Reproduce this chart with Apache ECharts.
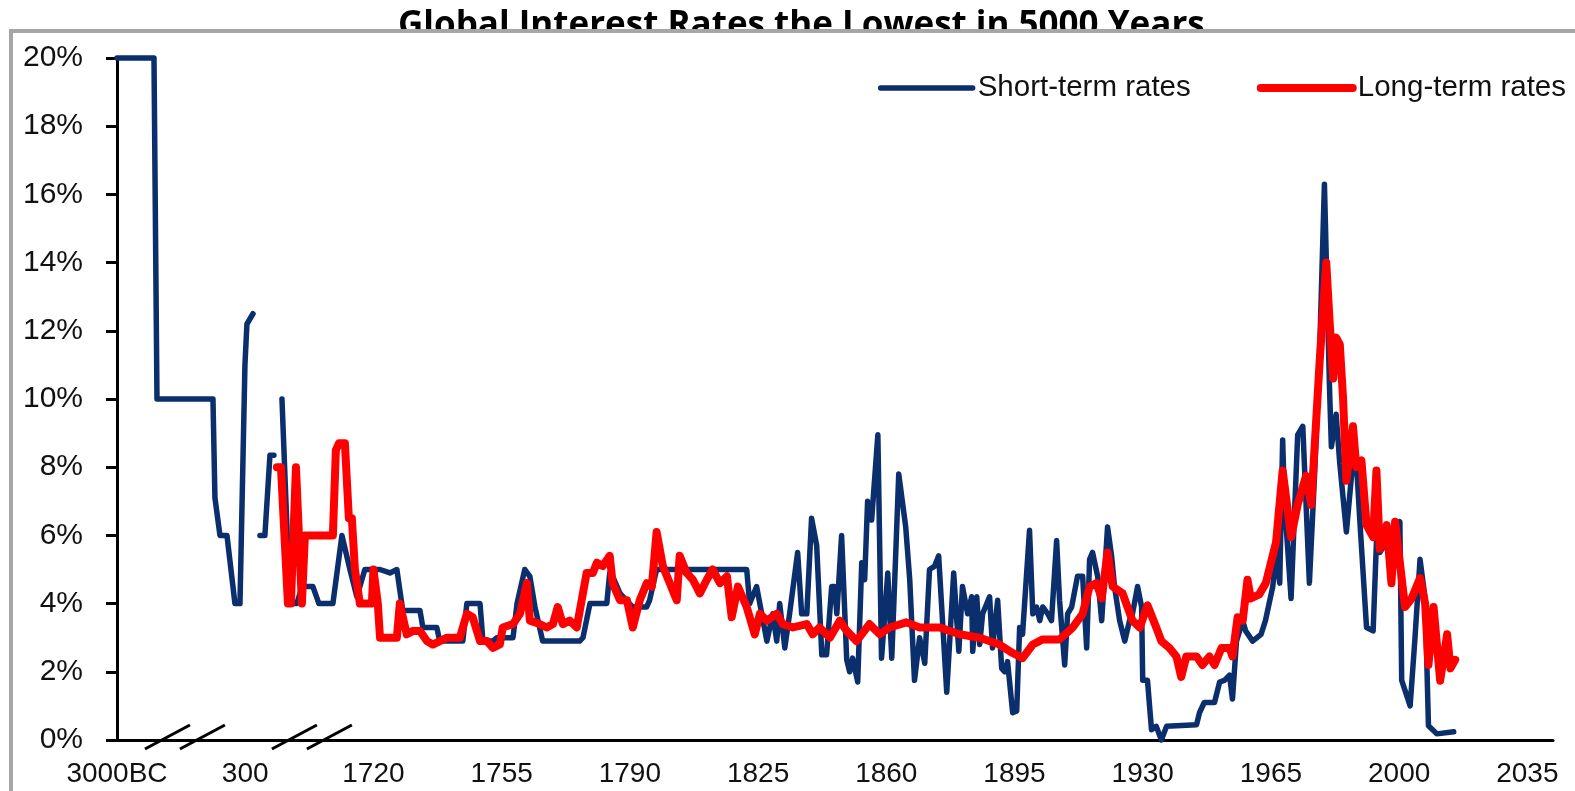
<!DOCTYPE html>
<html>
<head>
<meta charset="utf-8">
<title>Global Interest Rates</title>
<script src="https://cdn.jsdelivr.net/npm/echarts@6/dist/echarts.min.js"></script>
<style>
  html, body { margin: 0; padding: 0; background: #fff; }
  #chart { width: 1575px; height: 791px; }
</style>
</head>
<body>
<div id="chart"></div>
<script>
// tick labels along the bottom, one per slot
var xLabels = ['3000BC', '300', '1720', '1755', '1790', '1825', '1860', '1895', '1930', '1965', '2000', '2035'];

// [year, rate %]; null marks a gap in the line. negative = BC
var shortEarly = [
    [-3000, 20], [-2048, 20], [-1971, 10], [-530, 10], [-479, 7.1], [-350, 6], [-170, 6], [36, 4], [165, 4], [293, 11], [319, 12.2], [386, 12.5],
    null,
    [463, 6], [518, 6], [574, 8.35], [618, 8.35],
    null,
    [707, 10], [751, 7], [795, 4], [873, 4], [928, 4.5], [1050, 4.5], [1116, 4], [1271, 4], [1371, 6], [1460, 5], [1537, 4.2], [1625, 5], [1703, 5]
];
var shortModern = [
    [1720, 5.0], [1721.8, 5.0], [1724.5, 4.9], [1726.4, 5.0], [1728, 3.8], [1732.7, 3.8], [1733.5, 3.3], [1737.3, 3.3], [1738.1, 2.9],
    [1744.4, 2.9], [1745.5, 4.0], [1749.1, 4.0], [1749.9, 2.9], [1752.6, 2.9], [1753.7, 3.0], [1758.1, 3.0], [1759.2, 4.0], [1761.3, 5.0],
    [1762.7, 4.8], [1764.1, 3.9], [1766.2, 2.9], [1776.3, 2.9], [1777.2, 3.0], [1779.1, 4.0], [1783.7, 4.0], [1784.5, 4.9], [1785.3, 4.8],
    [1787.3, 4.3], [1790.8, 3.9], [1794.6, 3.9], [1795.4, 4.1], [1797.3, 5.0], [1821.9, 5.0], [1822.7, 4.0], [1824.6, 4.5], [1827.4, 2.9],
    [1829, 3.7], [1830.1, 2.9], [1830.9, 4.0], [1832.3, 2.7], [1833.6, 3.7], [1835.8, 5.5], [1836.9, 3.7], [1838.3, 3.7], [1839.6, 6.5],
    [1841, 5.7], [1842.4, 2.5], [1843.7, 2.5], [1845.1, 4.5], [1845.9, 4.5], [1846.5, 3.7], [1847.8, 6.0], [1849.2, 2.35], [1850, 2.0],
    [1850.8, 2.4], [1852.2, 1.7], [1853.3, 5.2], [1854.1, 4.7], [1854.9, 7.0], [1856, 6.45], [1857.7, 8.95], [1858.7, 2.4], [1859.6, 3.7],
    [1860.4, 4.9], [1861.5, 2.4], [1863.4, 7.8], [1865.3, 6.25], [1866.4, 4.7], [1867.7, 1.75], [1869.1, 3.0], [1870.5, 2.25], [1871.8, 5.0],
    [1873.2, 5.1], [1874.3, 5.4], [1876.5, 1.4], [1878.4, 4.9], [1879.8, 2.6], [1880.8, 4.5], [1882.2, 3.7], [1883.3, 4.2], [1883.6, 2.6],
    [1884.7, 4.2], [1885.5, 2.8], [1886.3, 3.7], [1888.2, 4.2], [1889, 2.7], [1890.4, 4.1], [1891.5, 2.1], [1892.3, 2.0], [1893.1, 2.3],
    [1894.5, 0.8], [1895.6, 0.85], [1896.4, 3.3], [1897.2, 3.1], [1899.1, 6.15], [1900, 3.7], [1901, 3.9], [1901.9, 3.5], [1902.7, 3.9],
    [1904.1, 3.7], [1905.1, 3.5], [1906.5, 5.85], [1907.3, 4.1], [1908.7, 2.2], [1909.5, 3.7], [1910.6, 3.9], [1912.2, 4.8], [1913.6, 4.8],
    [1914.7, 2.7], [1915.5, 5.3], [1916.3, 5.5], [1917.7, 4.8], [1918.8, 3.5], [1920.4, 6.25], [1921.5, 5.4], [1922.3, 4.5], [1923.7, 3.5],
    [1925.1, 2.9], [1926.4, 3.5], [1927.2, 3.7], [1928.6, 4.5], [1929.7, 3.9], [1930, 1.75], [1931.3, 1.75], [1932.4, 0.3], [1933.7, 0.4],
    [1935.1, 0.0], [1936.5, 0.4], [1944.7, 0.45], [1945.5, 0.8], [1946.8, 1.1], [1949.6, 1.1], [1951, 1.7], [1952.3, 1.75], [1953.7, 1.9],
    [1954.5, 1.2], [1955.6, 2.9], [1957.3, 3.5], [1958.1, 3.2], [1960, 2.9], [1962.3, 3.1], [1963.5, 3.5], [1965.5, 4.5], [1966.5, 5.5],
    [1967.4, 4.6], [1968.2, 8.8], [1968.7, 7.0], [1970.5, 4.15], [1972.3, 8.95], [1973.7, 9.2], [1975.5, 4.6], [1976.9, 7.75], [1978.3, 11.4],
    [1979.6, 16.3], [1981, 10.3], [1981.5, 8.6], [1982.8, 9.55], [1983.8, 8.1], [1985.6, 6.1], [1987, 7.75], [1988.3, 8.2], [1989.2, 6.55],
    [1991.1, 3.3], [1992.9, 3.2], [1993.8, 5.8], [1994.7, 5.5], [1996.6, 5.8], [1998.4, 6.1], [2000.2, 6.4], [2000.7, 1.75], [2003, 1.0],
    [2004.3, 2.95], [2005.7, 5.3], [2007.1, 4.15], [2008, 0.42], [2010.3, 0.18], [2014.9, 0.24]
];

var longEarly = [
    [651, 8], [696, 8], [773, 4], [806, 4], [862, 8], [884, 8], [928, 4], [961, 6], [1271, 6], [1304, 8.5], [1338, 8.7], [1404, 8.7],
    [1448, 6.5], [1481, 6.5], [1515, 5], [1570, 4], [1703, 4]
];
var longModern = [
    [1720, 5.0], [1721.2, 4.0], [1721.8, 3.0], [1726.4, 3.0], [1727.2, 4.0], [1729.1, 3.1], [1730.8, 3.2], [1732.7, 3.2], [1734.6, 2.9],
    [1736.2, 2.8], [1740.1, 3.0], [1743.6, 3.0], [1745.5, 3.7], [1747.1, 3.6], [1749.1, 2.9], [1751, 2.9], [1752.6, 2.7], [1754.5, 2.8],
    [1755.3, 3.3], [1758.1, 3.4], [1760, 3.7], [1761.9, 4.6], [1762.7, 3.5], [1765.4, 3.4], [1767.3, 3.3], [1769, 3.4], [1770.3, 3.9],
    [1771.7, 3.4], [1773.6, 3.5], [1775.5, 3.3], [1778.2, 4.9], [1779.9, 4.9], [1781, 5.2], [1782.6, 5.1], [1784.5, 5.4], [1785.3, 4.6],
    [1787.3, 4.1], [1789.2, 4.1], [1790.8, 3.3], [1792.7, 4.1], [1794.6, 4.6], [1796, 4.5], [1797.3, 6.1], [1799, 5.1], [1800.9, 4.6],
    [1802.8, 4.1], [1803.6, 5.4], [1805.5, 4.9], [1807.2, 4.7], [1809.1, 4.3], [1811, 4.7], [1812.6, 5.0], [1814.6, 4.6], [1816.5, 4.8],
    [1817.8, 3.6], [1819.5, 4.5], [1821.9, 3.9], [1824.1, 3.1], [1825.5, 3.7], [1827.4, 3.5], [1830.1, 3.7], [1831.7, 3.4], [1834.5, 3.3],
    [1838.3, 3.4], [1839.9, 3.1], [1841.8, 3.3], [1844.6, 3.0], [1847.3, 3.5], [1849.2, 3.2], [1851.9, 2.9], [1855.4, 3.4], [1858.2, 3.1],
    [1860.9, 3.3], [1865.5, 3.45], [1869.1, 3.3], [1874.6, 3.3], [1880, 3.1], [1885.5, 3.0], [1890.9, 2.8], [1894.5, 2.55], [1897.2, 2.4],
    [1900, 2.8], [1902.7, 2.95], [1907.3, 2.95], [1910.9, 3.3], [1913.6, 3.7], [1915.5, 4.5], [1917.4, 4.6], [1918.8, 4.15], [1920.4, 5.5],
    [1921.8, 4.5], [1924.5, 4.3], [1927.2, 3.5], [1929.2, 3.3], [1931.3, 3.95], [1933.7, 3.3], [1935.1, 2.9], [1937.3, 2.7], [1939.2, 2.45],
    [1940.5, 1.85], [1941.9, 2.45], [1944.7, 2.45], [1946.3, 2.2], [1948.2, 2.45], [1949.6, 2.2], [1951.5, 2.7], [1953.7, 2.7], [1954.5, 2.45],
    [1955.9, 3.6], [1957.3, 3.5], [1958.6, 4.7], [1959.5, 4.15], [1961.8, 4.27], [1963.6, 4.6], [1966.4, 5.8], [1968.2, 7.9], [1970.5, 5.95],
    [1972.3, 6.9], [1974.6, 7.75], [1976, 6.9], [1978.3, 11.1], [1980.1, 14.0], [1981, 12.3], [1982, 10.6], [1982.8, 11.8], [1983.8, 11.6],
    [1984.7, 10.0], [1985.6, 7.6], [1987.4, 9.2], [1988.3, 8.0], [1989.7, 8.2], [1991.1, 6.3], [1992.9, 5.95], [1993.8, 7.9], [1994.7, 5.6],
    [1996.6, 6.3], [1997.9, 4.6], [1998.9, 6.4], [2000.2, 5.2], [2001.6, 3.9], [2003.4, 4.15], [2005.7, 4.75], [2007.1, 4.0], [2008, 2.2],
    [2009.4, 3.9], [2011.2, 1.74], [2013.1, 3.1], [2014, 2.1], [2015.3, 2.35]
];

// the axis has breaks: 3000BC..300 and 300..1720 are squeezed into one slot each,
// after 1720 every slot is 35 years
function toSlot(year) {
    if (year <= 300) return (year + 3000) / 3300;
    if (year <= 1720) return 1 + (year - 300) / 1420;
    return 2 + (year - 1720) / 35;
}
function toSeries(rows) {
    return rows.map(function (r) {
        return r ? [toSlot(r[0]), r[1]] : [null, null];
    });
}

var shortData = toSeries(shortEarly).concat(toSeries(shortModern));
var longData = toSeries(longEarly).concat(toSeries(longModern));

var sans = "'Liberation Sans', Arial, sans-serif";

var chart = echarts.init(document.getElementById('chart'));
var option = {
    animation: false,
    backgroundColor: '#fff',
    title: {
        text: 'Global Interest Rates the Lowest in 5000 Years',
        left: 393,
        top: 4,
        z: 0,
        textStyle: { fontFamily: 'Open Sans', fontWeight: 'bold', fontSize: 35, color: '#000' }
    },
    // frame of the pasted chart picture, it hides the lower half of the title
    graphic: [{
        type: 'rect',
        z: 1,
        silent: true,
        shape: { x: 11, y: 31, width: 1600, height: 800 },
        style: { fill: '#fff', stroke: '#a6a6a6', lineWidth: 4 }
    }],
    legend: {
        right: 4,
        top: 68,
        z: 6,
        itemWidth: 92,
        itemHeight: 10,
        itemGap: 66,
        textStyle: { fontFamily: sans, fontSize: 29.5, color: '#111' },
        data: [
            { name: 'Short-term rates', itemStyle: { opacity: 0 }, lineStyle: { width: 5.5, cap: 'round' } },
            { name: 'Long-term rates', itemStyle: { opacity: 0 }, lineStyle: { width: 8, cap: 'round' } }
        ]
    },
    grid: {
        left: 117,
        right: 22,
        top: 58,
        bottom: 51,
        containLabel: false,
        outerBoundsMode: 'none'
    },
    xAxis: {
        type: 'value',
        min: 0,
        max: 11.2,
        interval: 1,
        z: 2,
        splitLine: { show: false },
        axisTick: { show: false },
        axisLine: { lineStyle: { color: '#000', width: 3 } },
        axisLabel: {
            margin: 20,
            fontFamily: sans,
            fontSize: 28,
            color: '#111',
            showMaxLabel: false,
            formatter: function (v) {
                return Math.abs(v - Math.round(v)) < 1e-6 ? (xLabels[Math.round(v)] || '') : '';
            }
        }
    },
    yAxis: {
        type: 'value',
        min: 0,
        max: 20,
        interval: 2,
        z: 2,
        splitLine: { show: false },
        axisLine: { show: true, lineStyle: { color: '#000', width: 3 } },
        axisTick: { show: true, length: 11, lineStyle: { color: '#000', width: 3 } },
        axisLabel: {
            margin: 34,
            fontFamily: sans,
            fontSize: 30,
            color: '#111',
            formatter: '{value}%'
        }
    },
    series: [
        {
            name: 'Short-term rates',
            type: 'line',
            data: shortData,
            symbol: 'none',
            clip: false,
            z: 3,
            color: '#0b2e6c',
            lineStyle: { color: '#0b2e6c', width: 5.5, join: 'round', cap: 'round' }
        },
        {
            name: 'Long-term rates',
            type: 'line',
            data: longData,
            symbol: 'none',
            clip: false,
            z: 4,
            color: '#ff0000',
            lineStyle: { color: '#ff0000', width: 8, join: 'round', cap: 'round' }
        },
        {
            // double slash break marks on the x axis
            type: 'custom',
            silent: true,
            z: 5,
            data: [[0.53, 0], [1.52, 0]],
            encode: { x: 0, y: 1 },
            renderItem: function (params, api) {
                var c = api.coord([api.value(0), api.value(1)]);
                var kids = [-17, 18].map(function (dx) {
                    return {
                        type: 'line',
                        shape: { x1: c[0] + dx - 23, y1: c[1] + 9, x2: c[0] + dx + 22, y2: c[1] - 15 },
                        style: { stroke: '#000', lineWidth: 3 }
                    };
                });
                return { type: 'group', children: kids };
            }
        }
    ]
};
chart.setOption(option);
</script>
</body>
</html>
